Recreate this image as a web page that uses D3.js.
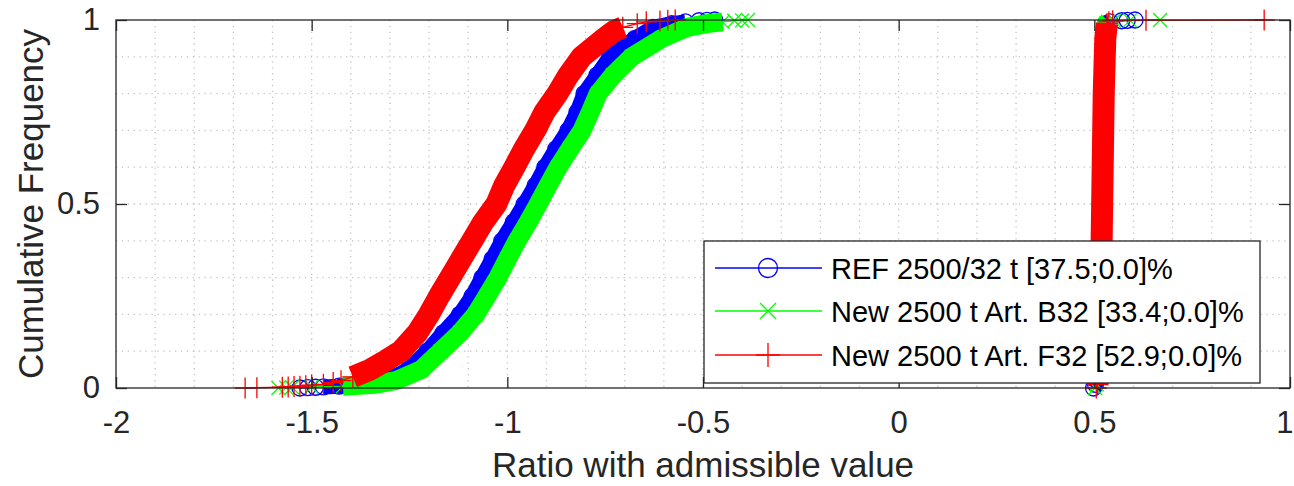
<!DOCTYPE html>
<html>
<head>
<meta charset="utf-8">
<script src="https://cdn.jsdelivr.net/npm/d3@7/dist/d3.min.js"></script>
<style>
  html, body { margin: 0; padding: 0; background: #fff; }
  svg { display: block; font-family: "Liberation Sans", Arial, Helvetica, sans-serif; }
</style>
</head>
<body>
<svg id="chart" width="1294" height="486"></svg>
<script>
// ---------------- data ----------------
const seriesNames = ["REF 2500/32 t [37.5;0.0]%", "New 2500 t Art. B32 [33.4;0.0]%", "New 2500 t Art. F32 [52.9;0.0]%"];
const xTicks = [-2, -1.5, -1, -0.5, 0, 0.5, 1];
const yTicks = [0, 0.5, 1];

// negative-ratio empirical CDFs
const refNegF = [0, 0.001, 0.002, 0.003, 0.005, 0.01, 0.02, 0.05, 0.1, 0.15, 0.2, 0.25, 0.3, 0.35, 0.4, 0.45, 0.5, 0.55, 0.6, 0.65, 0.7, 0.75, 0.8, 0.85, 0.9, 0.95, 0.98, 0.99, 0.995, 0.998, 0.999, 1];
const refNegX = [-1.53, -1.51, -1.49, -1.47, -1.43, -1.36, -1.31, -1.255, -1.205, -1.164, -1.122, -1.09, -1.065, -1.039, -1.014, -0.985, -0.957, -0.929, -0.904, -0.876, -0.845, -0.822, -0.804, -0.771, -0.738, -0.674, -0.628, -0.58, -0.545, -0.51, -0.49, -0.47];

const b32NegF = [0, 0.001, 0.002, 0.003, 0.005, 0.01, 0.02, 0.05, 0.1, 0.15, 0.2, 0.25, 0.3, 0.35, 0.4, 0.45, 0.5, 0.55, 0.6, 0.65, 0.7, 0.75, 0.8, 0.85, 0.9, 0.95, 0.98, 0.99, 0.995, 0.998, 0.999, 1];
const b32NegX = [-1.585, -1.565, -1.55, -1.5, -1.42, -1.34, -1.285, -1.22, -1.17, -1.121, -1.081, -1.052, -1.024, -1.0, -0.975, -0.947, -0.921, -0.896, -0.87, -0.84, -0.809, -0.788, -0.768, -0.73, -0.682, -0.605, -0.54, -0.49, -0.45, -0.42, -0.4, -0.385];

const f32NegF = [0, 0.001, 0.002, 0.003, 0.004, 0.005, 0.006, 0.008, 0.01, 0.015, 0.02, 0.03, 0.05, 0.075, 0.1, 0.15, 0.2, 0.25, 0.3, 0.35, 0.4, 0.45, 0.5, 0.55, 0.6, 0.65, 0.7, 0.75, 0.8, 0.85, 0.9, 0.95, 0.97, 0.98, 0.99, 0.995, 0.997, 0.999, 1];
const f32NegX = [-1.67, -1.64, -1.575, -1.56, -1.545, -1.53, -1.515, -1.5, -1.47, -1.445, -1.425, -1.395, -1.35, -1.31, -1.272, -1.23, -1.2, -1.174, -1.146, -1.118, -1.09, -1.062, -1.028, -1.008, -0.982, -0.957, -0.929, -0.905, -0.872, -0.844, -0.81, -0.752, -0.727, -0.705, -0.668, -0.645, -0.61, -0.59, -0.571];

// positive-ratio empirical CDFs
const posF = [0, 0.01, 0.05, 0.2, 0.5, 0.8, 0.95, 0.99, 0.995, 0.998, 0.999, 1];
const refPosX = [0.498, 0.503, 0.508, 0.512, 0.517, 0.521, 0.525, 0.53, 0.54, 0.57, 0.584, 0.604];
const b32PosX = [0.502, 0.506, 0.51, 0.514, 0.518, 0.522, 0.526, 0.53, 0.535, 0.55, 0.591, 0.668];
const f32PosX = [0.505, 0.508, 0.512, 0.516, 0.52, 0.524, 0.528, 0.532, 0.537, 0.547, 0.632, 0.934];

// ---------------- drawing ----------------
const svg = d3.select("#chart");
const L = 116, R = 1290, T = 20, B = 388;
const x = d3.scaleLinear().domain([-2, 1]).range([L, R]);
const y = d3.scaleLinear().domain([0, 1]).range([B, T]);
const axisColor = "#262626";

// grid (all dotted)
const gridX = d3.range(-19, 10).map(i => i / 10);
const gridY = d3.range(1, 10).map(i => i / 10);
const grid = svg.append("g").attr("stroke", "#c4c4c4").attr("stroke-width", 1.3).attr("stroke-dasharray", "1.3,4.6");
grid.selectAll("line.gx").data(gridX).join("line").attr("class", "gx")
  .attr("x1", d => x(d)).attr("x2", d => x(d)).attr("y1", T).attr("y2", B);
grid.selectAll("line.gy").data(gridY).join("line").attr("class", "gy")
  .attr("x1", L).attr("x2", R).attr("y1", d => y(d)).attr("y2", d => y(d));

const series = [
  { name: seriesNames[0], color: "#0000ff", marker: "o", band: 15,
    parts: [ { X: refNegX, F: refNegF, from: 0.003, to: 0.995 }, { X: refPosX, F: posF, from: 0, to: 0.995 } ] },
  { name: seriesNames[1], color: "#00ff00", marker: "x", band: 19,
    parts: [ { X: b32NegX, F: b32NegF, from: 0.005, to: 0.995 }, { X: b32PosX, F: posF, from: 0.01, to: 0.995 } ] },
  { name: seriesNames[2], color: "#ff0000", marker: "+", band: 22,
    parts: [ { X: f32NegX, F: f32NegF, from: 0.03, to: 0.98 }, { X: f32PosX, F: posF, from: 0.01, to: 0.99 } ] }
];

function drawMarker(g, type, cx, cy, color, s) {
  if (type === "o") {
    g.append("circle").attr("cx", cx).attr("cy", cy).attr("r", s.r)
      .attr("fill", "none").attr("stroke", color).attr("stroke-width", 1.3);
  } else if (type === "x") {
    const h = s.x;
    g.append("path").attr("d", `M${cx - h},${cy - h}L${cx + h},${cy + h}M${cx - h},${cy + h}L${cx + h},${cy - h}`)
      .attr("stroke", color).attr("stroke-width", 1.3).attr("fill", "none");
  } else {
    const h = s.p;
    g.append("path").attr("d", `M${cx - h},${cy}L${cx + h},${cy}M${cx},${cy - h}L${cx},${cy + h}`)
      .attr("stroke", color).attr("stroke-width", 1.3).attr("fill", "none");
  }
}
const mSize = { r: 8, x: 7, p: 10.5 };
const legSize = { r: 9.5, x: 8, p: 12 };

const plot = svg.append("g");
const line = d3.line().x(d => x(d[0])).y(d => y(d[1]));
series.forEach(s => {
  const g = plot.append("g");
  s.parts.forEach(p => {
    const pts = p.X.map((v, i) => [v, p.F[i]]);
    const core = pts.filter(d => d[1] >= p.from && d[1] <= p.to);
    g.append("path").attr("d", line(core)).attr("fill", "none")
      .attr("stroke", s.color).attr("stroke-width", s.band)
      .attr("stroke-linejoin", "round").attr("stroke-linecap", "butt");
    g.append("path").attr("d", line(pts)).attr("fill", "none")
      .attr("stroke", s.color).attr("stroke-width", 1.3);
    pts.forEach(d => drawMarker(g, s.marker, x(d[0]), y(d[1]), s.color, mSize));
  });
});

// axes box
svg.append("rect").attr("x", L).attr("y", T).attr("width", R - L).attr("height", B - T)
  .attr("fill", "none").attr("stroke", axisColor).attr("stroke-width", 1.3);

const fmt = d => String(d);
const tickLen = 11;
const xb = svg.append("g").attr("transform", `translate(0,${B})`)
  .call(d3.axisBottom(x).tickValues(xTicks).tickFormat(fmt).tickSizeInner(-tickLen).tickSizeOuter(0).tickPadding(23));
const xt = svg.append("g").attr("transform", `translate(0,${T})`)
  .call(d3.axisTop(x).tickValues(xTicks).tickFormat("").tickSizeInner(-tickLen).tickSizeOuter(0));
const yl = svg.append("g").attr("transform", `translate(${L},0)`)
  .call(d3.axisLeft(y).tickValues(yTicks).tickFormat(fmt).tickSizeInner(-tickLen).tickSizeOuter(0).tickPadding(16));
const yr = svg.append("g").attr("transform", `translate(${R},0)`)
  .call(d3.axisRight(y).tickValues(yTicks).tickFormat("").tickSizeInner(-tickLen).tickSizeOuter(0));
[xb, xt, yl, yr].forEach(a => {
  a.select(".domain").remove();
  a.selectAll("line").attr("stroke", axisColor).attr("stroke-width", 1.3);
  a.selectAll("text").attr("fill", axisColor).style("font-size", "31px")
    .style("font-family", '"Liberation Sans", Arial, Helvetica, sans-serif');
});
// keep the last x label inside the picture
xb.selectAll(".tick").filter(d => d === 1).select("text").attr("text-anchor", "end").attr("x", 3);

// axis labels
svg.append("text").attr("x", (L + R) / 2).attr("y", 477).attr("text-anchor", "middle")
  .attr("fill", axisColor).style("font-size", "35px").text("Ratio with admissible value");
svg.append("text").attr("transform", `translate(43,${(T + B) / 2}) rotate(-90)`).attr("text-anchor", "middle")
  .attr("fill", axisColor).style("font-size", "35px").text("Cumulative Frequency");

// legend
const lg = svg.append("g");
lg.append("rect").attr("x", 704).attr("y", 241).attr("width", 556).attr("height", 142)
  .attr("fill", "#fff").attr("stroke", axisColor).attr("stroke-width", 1.3);
const rowY = [268, 311, 355];
series.forEach((s, i) => {
  const ry = rowY[i];
  lg.append("line").attr("x1", 715).attr("x2", 822).attr("y1", ry).attr("y2", ry)
    .attr("stroke", s.color).attr("stroke-width", 1.3);
  drawMarker(lg, s.marker, 768, ry, s.color, legSize);
  lg.append("text").attr("x", 831).attr("y", ry + 10.5).attr("fill", "#000")
    .style("font-size", "29px").text(s.name);
});
</script>
</body>
</html>
